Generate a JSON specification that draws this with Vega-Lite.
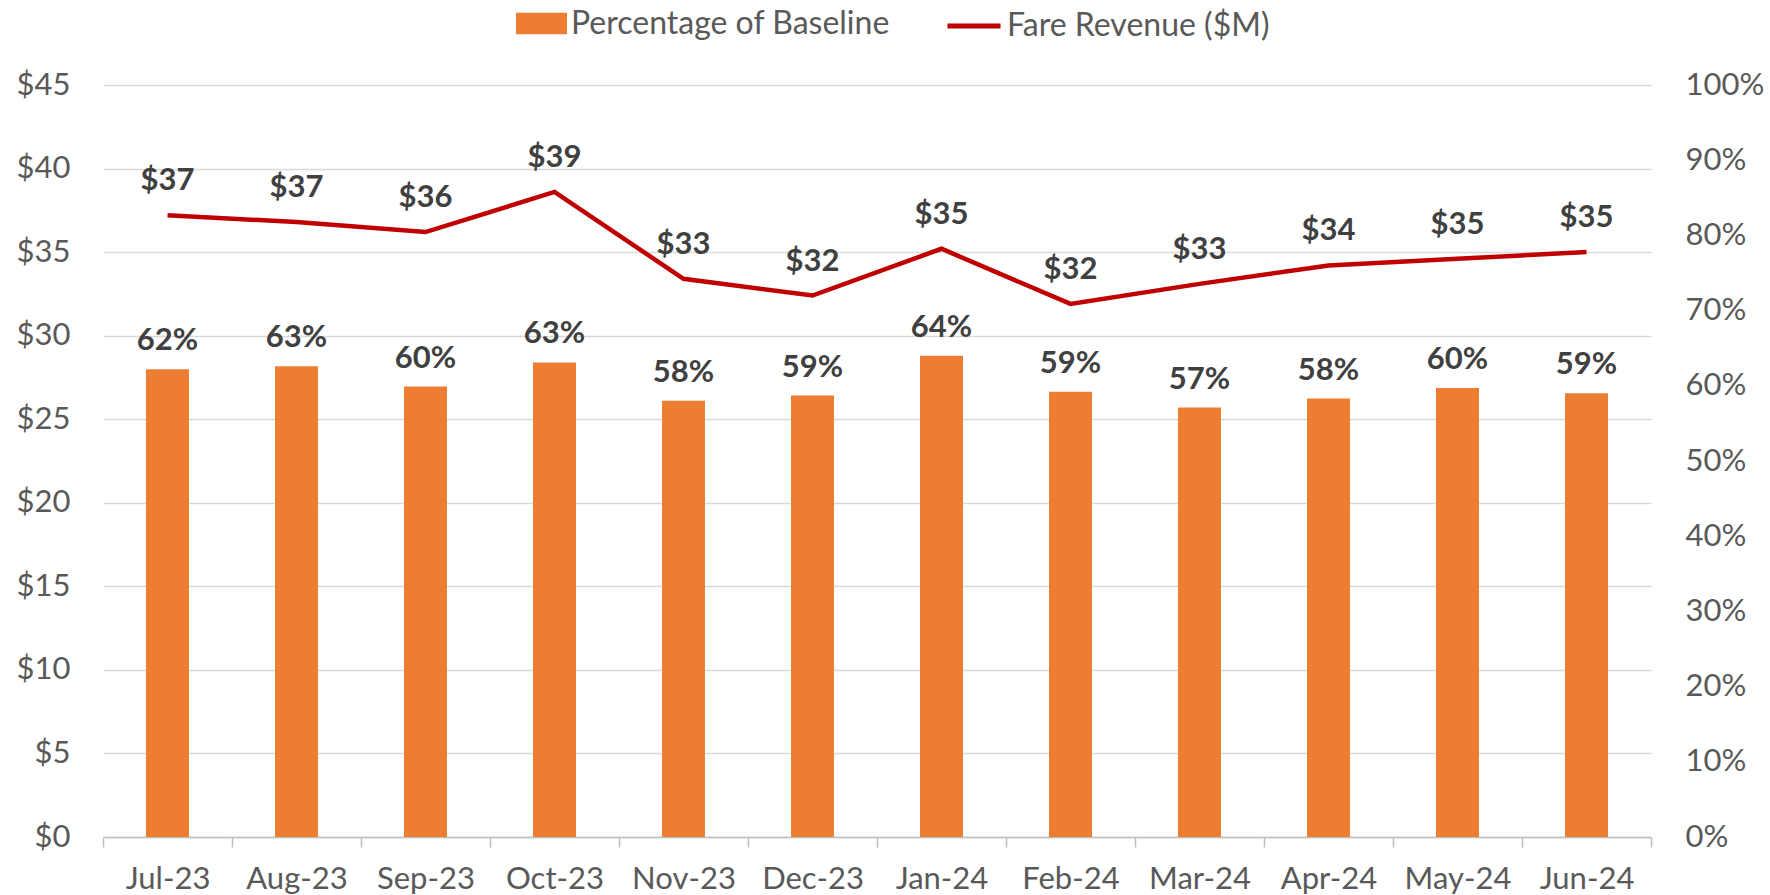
{
  "$schema": "https://vega.github.io/schema/vega-lite/v6.json",
  "width": 1548,
  "height": 752,
  "autosize": {"type": "none"},
  "padding": {"left": 103, "top": 85, "right": 119, "bottom": 58},
  "background": "white",
  "config": {
    "view": {"stroke": null},
    "font": "Lato",
    "axis": {"labelFont": "Lato", "labelColor": "#595959", "labelFontSize": 31, "titleFont": "Lato"},
    "legend": {"labelFont": "Lato", "labelColor": "#595959", "labelFontSize": 32, "labelLimit": 600}
  },
  "data": {
    "values": [
      {"month": "Jul-23", "pct": 0.622, "rev": 37.2},
      {"month": "Aug-23", "pct": 0.626, "rev": 36.8},
      {"month": "Sep-23", "pct": 0.599, "rev": 36.2},
      {"month": "Oct-23", "pct": 0.631, "rev": 38.6},
      {"month": "Nov-23", "pct": 0.580, "rev": 33.4},
      {"month": "Dec-23", "pct": 0.587, "rev": 32.4},
      {"month": "Jan-24", "pct": 0.640, "rev": 35.2},
      {"month": "Feb-24", "pct": 0.592, "rev": 31.9},
      {"month": "Mar-24", "pct": 0.571, "rev": 33.1},
      {"month": "Apr-24", "pct": 0.583, "rev": 34.2},
      {"month": "May-24", "pct": 0.597, "rev": 34.6},
      {"month": "Jun-24", "pct": 0.590, "rev": 35.0}
    ]
  },
  "encoding": {
    "x": {
      "field": "month",
      "type": "ordinal",
      "sort": null,
      "scale": {"paddingInner": 0, "paddingOuter": 0},
      "axis": {
        "title": null,
        "labelAngle": 0,
        "tickBand": "extent",
        "tickSize": 10,
        "tickColor": "#bfbfbf",
        "tickWidth": 1.5,
        "domainColor": "#bfbfbf",
        "domainWidth": 1.5,
        "labelPadding": 17,
        "grid": false
      }
    }
  },
  "layer": [
    {
      "encoding": {
        "y": {
          "field": "pct",
          "type": "quantitative",
          "scale": {"domain": [0, 1], "nice": false},
          "axis": {
            "orient": "right",
            "title": null,
            "values": [0, 0.1, 0.2, 0.3, 0.4, 0.5, 0.6, 0.7, 0.8, 0.9, 1],
            "format": ".0%",
            "grid": false,
            "domain": false,
            "ticks": false,
            "labelPadding": 34
          }
        }
      },
      "layer": [
        {
          "mark": {"type": "bar", "color": "#ed7d31", "width": {"band": 0.333}},
          "encoding": {
            "fill": {
              "datum": "Percentage of Baseline",
              "type": "nominal",
              "scale": {"range": ["#ed7d31"]},
              "legend": {
                "title": null,
                "orient": "none",
                "legendX": 413,
                "legendY": -87,
                "padding": 0,
                "symbolType": "M-1,-0.42L1,-0.42L1,0.42L-1,0.42Z",
                "symbolSize": 2601,
                "symbolStrokeWidth": 0,
                "labelOffset": 4
              }
            }
          }
        },
        {
          "mark": {"type": "text", "dy": -28, "baseline": "middle", "fontWeight": "bold", "fontSize": 31, "color": "#404040", "font": "Lato"},
          "encoding": {"text": {"field": "pct", "type": "quantitative", "format": ".0%"}}
        }
      ]
    },
    {
      "encoding": {
        "y": {
          "field": "rev",
          "type": "quantitative",
          "scale": {"domain": [0, 45], "nice": false},
          "axis": {
            "orient": "left",
            "title": null,
            "values": [0, 5, 10, 15, 20, 25, 30, 35, 40, 45],
            "labelExpr": "'$' + datum.value",
            "grid": true,
            "gridColor": "#d9d9d9",
            "gridWidth": 1.5,
            "domain": false,
            "ticks": false,
            "labelPadding": 33
          }
        }
      },
      "layer": [
        {
          "mark": {"type": "line", "strokeWidth": 4.5},
          "encoding": {
            "stroke": {
              "datum": "Fare Revenue ($M)",
              "type": "nominal",
              "scale": {"range": ["#c00000"]},
              "legend": {
                "title": null,
                "orient": "none",
                "legendX": 842,
                "legendY": -88,
                "padding": 0,
                "symbolType": "stroke",
                "symbolSize": 2809,
                "symbolStrokeWidth": 5,
                "labelOffset": 4
              }
            }
          }
        },
        {
          "mark": {"type": "text", "dy": -34, "baseline": "middle", "fontWeight": "bold", "fontSize": 31, "color": "#404040", "font": "Lato"},
          "encoding": {"text": {"field": "rev", "type": "quantitative", "format": "$.0f"}}
        }
      ]
    }
  ],
  "resolve": {"scale": {"y": "independent", "fill": "independent", "stroke": "independent"}}
}
